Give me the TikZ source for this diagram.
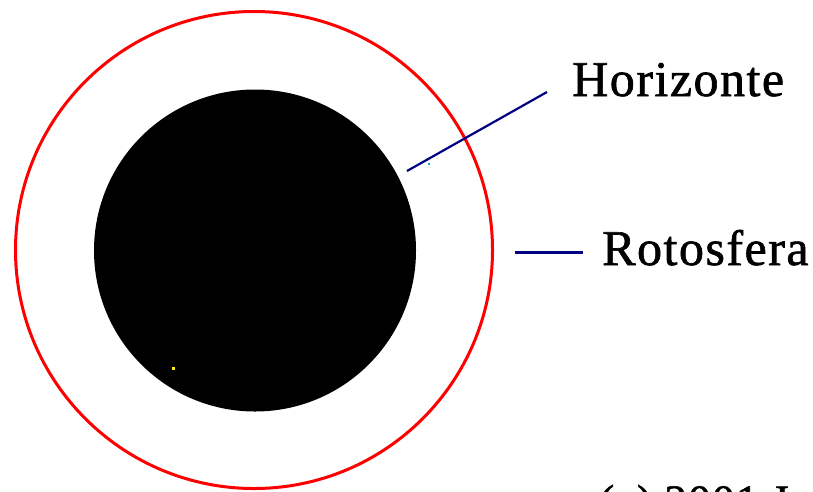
\documentclass[tikz,border=0pt]{standalone}
\usepackage{fontspec}
\setmainfont{Liberation Serif}
\newfontfamily\tagfont[LetterSpace=3, FakeBold=1.2]{Liberation Serif}
\usepackage{xcolor}
\definecolor{navy}{RGB}{0,0,128}

\tikzset{
  tag/.style={anchor=base west, inner sep=0pt, font=\tagfont\fontsize{50}{60}\selectfont},
  pointer/.style={navy, line width=2.2pt}
}

\begin{document}
\begin{tikzpicture}[x=1pt, y=-1pt]
    \useasboundingbox (0,0) rectangle (813,491);
    \clip (0,0) rectangle (813,491);
    \draw[red, line width=3pt] (254,250) circle (238.5pt);
    \fill[black] (255,250.5) circle (161pt);
    \fill[yellow] (172,367) rectangle (175,370);
    \fill[cyan] (428,163) rectangle (430,165);
    \node[tag] (hor) at (572,96) {Horizonte};
    \node[tag] (rot) at (602,265) {Rotosfera};
    \node[tag, font=\tagfont\fontsize{45}{54}\selectfont] (copy) at (599,516) {(c) 2001 J};
    \coordinate (hor-a) at (407,171);
    \coordinate (hor-b) at (547,92);
    \coordinate (rot-a) at (515,252);
    \coordinate (rot-b) at (583,252);
    \draw[pointer] (hor-a) -- (hor-b);
    \draw[pointer, line width=3pt] (rot-a) -- (rot-b);
\end{tikzpicture}
\end{document}
